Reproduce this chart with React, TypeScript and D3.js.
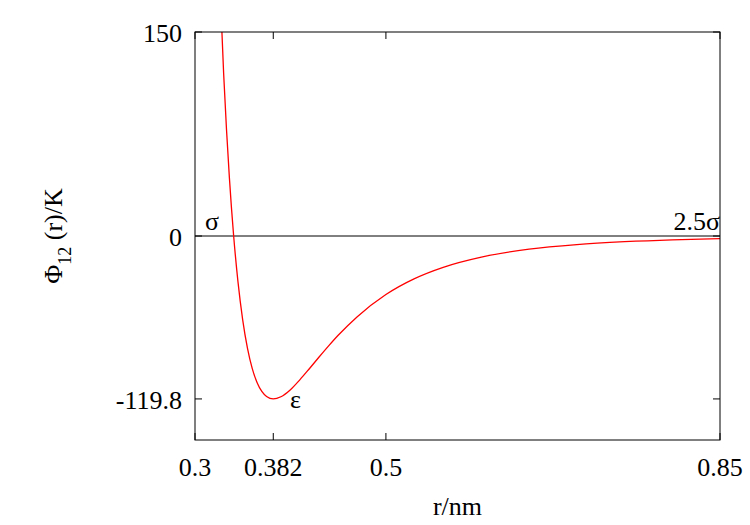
import React, { useEffect, useRef } from "react";
import * as d3 from "d3";

// curve points: r (nm), potential (K)
const rValues = [
	0.3282, 0.33, 0.333, 0.336, 0.3405, 0.345, 0.35, 0.355, 0.36, 0.365, 0.37,
	0.375, 0.382, 0.39, 0.4, 0.41, 0.42, 0.43, 0.44, 0.45, 0.47, 0.5, 0.53,
	0.56, 0.6, 0.65, 0.7, 0.75, 0.8, 0.85,
];
const phiValues = [
	150, 119.5, 78.3, 43.1, 0, -33.5, -61.8, -82.6, -97.5, -107.7, -114.3,
	-118.0, -119.8, -118.2, -113.0, -105.6, -97.4, -89.0, -80.8, -73.0, -59.3,
	-43.0, -31.3, -23.0, -15.5, -9.7, -6.3, -4.2, -2.8, -2.0,
];
const xTicks = [0.3, 0.382, 0.5, 0.85];
const xTickLabels = ["0.3", "0.382", "0.5", "0.85"];
const yTicks = [150, 0, -119.8];
const yTickLabels = ["150", "0", "-119.8"];

const W = 750;
const H = 525;
const FONT = "'Liberation Serif', 'Times New Roman', 'DejaVu Serif', serif";
const FS = "26px";

const App: React.FC = () => {
	const svgRef = useRef<SVGSVGElement | null>(null);

	useEffect(() => {
		const svg = d3.select(svgRef.current);
		svg.selectAll("*").remove();

		const left = 195;
		const right = 720;
		const top = 32;
		const bottom = 440;

		const x = d3.scaleLinear().domain([0.3, 0.85]).range([left, right]);
		const y = d3.scaleLinear().domain([-150, 150]).range([bottom, top]);

		svg.append("defs")
			.append("clipPath")
			.attr("id", "plot-clip")
			.append("rect")
			.attr("x", left)
			.attr("y", top)
			.attr("width", right - left)
			.attr("height", bottom - top);

		// zero line
		svg.append("line")
			.attr("x1", left)
			.attr("x2", right)
			.attr("y1", y(0))
			.attr("y2", y(0))
			.attr("stroke", "black")
			.attr("stroke-width", 1);

		const points: [number, number][] = rValues.map((r, i) => [r, phiValues[i]]);
		const line = d3
			.line<[number, number]>()
			.x((d) => x(d[0]))
			.y((d) => y(d[1]))
			.curve(d3.curveMonotoneX);

		svg.append("path")
			.datum(points)
			.attr("d", line)
			.attr("fill", "none")
			.attr("stroke", "#ff0000")
			.attr("stroke-width", 1.3)
			.attr("clip-path", "url(#plot-clip)");

		// frame
		svg.append("rect")
			.attr("x", left)
			.attr("y", top)
			.attr("width", right - left)
			.attr("height", bottom - top)
			.attr("fill", "none")
			.attr("stroke", "black")
			.attr("stroke-width", 1);

		const tickLen = 7;
		const g = svg.append("g").attr("stroke", "black").attr("stroke-width", 1);
		xTicks.forEach((t) => {
			g.append("line")
				.attr("x1", x(t))
				.attr("x2", x(t))
				.attr("y1", bottom)
				.attr("y2", bottom - tickLen);
			g.append("line")
				.attr("x1", x(t))
				.attr("x2", x(t))
				.attr("y1", top)
				.attr("y2", top + tickLen);
		});
		yTicks.forEach((t) => {
			g.append("line")
				.attr("x1", left)
				.attr("x2", left + tickLen)
				.attr("y1", y(t))
				.attr("y2", y(t));
			g.append("line")
				.attr("x1", right)
				.attr("x2", right - tickLen)
				.attr("y1", y(t))
				.attr("y2", y(t));
		});

		const label = (px: number, py: number, s: string, anchor = "start") =>
			svg
				.append("text")
				.attr("x", px)
				.attr("y", py)
				.attr("text-anchor", anchor)
				.style("font-family", FONT)
				.style("font-size", FS)
				.style("fill", "black")
				.text(s);

		xTicks.forEach((t, i) => label(x(t), 476, xTickLabels[i], "middle"));
		yTicks.forEach((t, i) => label(left - 13, y(t) + 10, yTickLabels[i], "end"));

		label((left + right) / 2, 515, "r/nm", "middle");

		const ylab = svg
			.append("text")
			.attr("transform", `translate(62, ${y(0)}) rotate(-90)`)
			.attr("text-anchor", "middle")
			.style("font-family", FONT)
			.style("font-size", FS)
			.style("fill", "black");
		ylab.append("tspan").text("Φ");
		ylab.append("tspan").attr("dy", 9).style("font-size", "18px").text("12");
		ylab.append("tspan").attr("dy", -9).text(" (r)/K");

		// annotations
		label(205, 230, "σ");
		label(right, 230, "2.5σ", "end");
		label(290, 408, "ε");
	}, []);

	return (
		<svg
			ref={svgRef}
			width={W}
			height={H}
			style={{ position: "absolute", left: 0, top: 0, background: "white" }}
		></svg>
	);
};

export default App;
